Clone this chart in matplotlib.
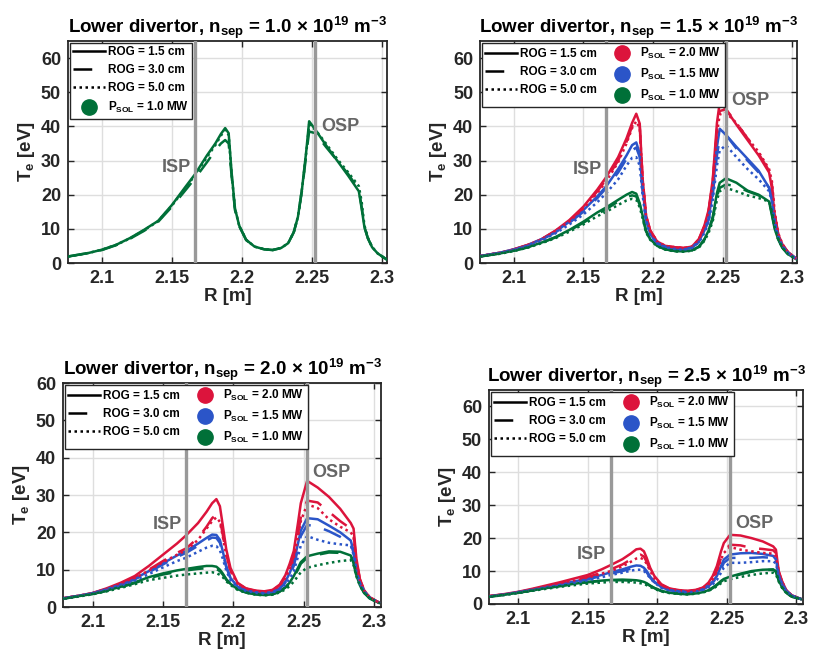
import matplotlib.pyplot as plt
from matplotlib.lines import Line2D

plt.rcParams['font.family'] = ['Liberation Sans', 'DejaVu Sans']
plt.rcParams['font.weight'] = 'bold'
plt.rcParams['mathtext.fontset'] = 'custom'
plt.rcParams['mathtext.rm'] = 'Liberation Sans:bold'
plt.rcParams['mathtext.bf'] = 'Liberation Sans:bold'
plt.rcParams['mathtext.it'] = 'Liberation Sans:bold'
plt.rcParams['mathtext.default'] = 'bf'

# major radius along the lower divertor target [m]
R = [2.0757, 2.09, 2.10, 2.11, 2.12, 2.13, 2.14, 2.15, 2.16, 2.1665,
     2.175, 2.181, 2.185, 2.188, 2.1905, 2.1925, 2.195, 2.198, 2.203, 2.209,
     2.216, 2.222, 2.228, 2.233, 2.237, 2.24, 2.243, 2.246, 2.248, 2.2525,
     2.26, 2.268, 2.276, 2.2835, 2.2855, 2.2875, 2.29, 2.293, 2.297, 2.3035]

rog_cm = [1.5, 3.0, 5.0]
psol_mw = [2.0, 1.5, 1.0]
nsep = [1.0, 1.5, 2.0, 2.5]
r_isp = 2.1665
r_osp = 2.2525

# Te [eV], one row per ROG (1.5, 3.0, 5.0 cm)
te_n10_p10 = [
    [1.9, 2.9, 3.9, 5.3, 7.3, 9.7, 12.3, 17.0, 22.5, 26.0, 31.5, 35.0, 37.8, 39.5, 38.0, 27.0, 16.0, 11.0, 6.8, 4.8,
     4.0, 3.8, 4.4, 5.8, 9.0, 13.5, 22.0, 33.0, 41.5, 39.0, 34.5, 30.0, 25.5, 21.0, 16.0, 10.5, 7.2, 4.6, 2.8, 1.0],
    [1.9, 2.9, 3.8, 5.2, 7.1, 9.4, 12.0, 16.5, 21.5, 24.8, 29.5, 33.0, 35.0, 36.0, 35.0, 26.0, 15.5, 10.8, 6.7, 4.8,
     4.0, 3.8, 4.4, 5.8, 9.0, 13.5, 21.5, 32.0, 38.5, 38.0, 34.0, 30.0, 26.0, 21.5, 16.5, 10.5, 7.2, 4.6, 2.8, 1.0],
    [1.9, 2.9, 3.9, 5.3, 7.2, 9.6, 12.2, 16.8, 22.2, 25.7, 31.0, 34.5, 37.3, 39.0, 37.5, 26.5, 16.0, 11.0, 6.8, 4.8,
     4.0, 3.8, 4.4, 5.8, 9.0, 13.5, 22.0, 32.5, 40.5, 39.0, 35.0, 30.5, 26.5, 22.5, 18.0, 11.0, 7.4, 4.7, 2.8, 1.0],
]

te_n15_p20 = [
    [2.0, 3.0, 4.0, 5.3, 7.0, 9.5, 12.6, 16.5, 21.5, 25.2, 31.0, 36.5, 41.0, 43.7, 40.8, 25.0, 14.0, 9.5, 6.3, 5.0,
     4.6, 4.4, 4.8, 7.0, 11.0, 15.5, 24.5, 41.0, 47.0, 45.0, 40.5, 36.0, 31.5, 26.5, 22.0, 14.0, 8.5, 5.5, 3.2, 1.1],
    [2.0, 3.0, 4.0, 5.3, 7.0, 9.4, 12.4, 16.2, 21.0, 24.5, 30.0, 35.5, 40.0, 42.2, 40.0, 25.0, 14.0, 9.5, 6.3, 5.0,
     4.6, 4.4, 4.8, 6.9, 10.8, 15.2, 24.0, 39.0, 44.5, 45.0, 41.0, 36.5, 32.0, 27.0, 23.0, 14.5, 8.6, 5.5, 3.2, 1.1],
    [2.0, 3.0, 3.9, 5.2, 6.9, 9.3, 12.2, 16.0, 20.5, 24.0, 29.5, 35.0, 39.5, 41.5, 39.5, 25.0, 14.0, 9.5, 6.3, 5.0,
     4.6, 4.4, 4.8, 6.8, 10.5, 15.0, 23.5, 38.0, 43.5, 44.0, 41.0, 36.5, 32.5, 27.5, 24.0, 15.0, 8.8, 5.6, 3.2, 1.1],
]
te_n15_p15 = [
    [2.0, 3.0, 4.0, 5.2, 7.0, 9.2, 12.1, 15.5, 19.5, 22.5, 27.5, 31.5, 34.5, 35.3, 32.0, 22.0, 13.0, 8.5, 5.8, 4.7,
     4.2, 4.0, 4.5, 6.3, 9.5, 13.0, 21.0, 34.0, 39.3, 37.5, 34.0, 30.5, 27.0, 22.0, 18.5, 12.0, 7.8, 5.0, 3.0, 1.1],
    [2.0, 3.0, 3.9, 5.1, 6.8, 9.0, 11.8, 15.0, 19.0, 22.0, 26.5, 30.5, 33.0, 33.8, 31.0, 21.5, 12.8, 8.4, 5.8, 4.7,
     4.2, 4.0, 4.5, 6.2, 9.2, 12.6, 20.0, 31.5, 36.5, 37.5, 33.5, 30.0, 26.5, 22.0, 18.5, 12.0, 7.8, 5.0, 3.0, 1.1],
    [2.0, 2.9, 3.8, 5.0, 6.6, 8.7, 11.3, 14.2, 17.8, 20.5, 24.5, 28.5, 30.8, 31.0, 28.5, 20.0, 12.3, 8.2, 5.7, 4.6,
     4.1, 3.9, 4.4, 6.0, 8.8, 12.0, 18.5, 28.5, 33.0, 34.5, 31.0, 27.5, 24.5, 21.0, 18.0, 12.0, 7.8, 5.0, 3.0, 1.1],
]
te_n15_p10 = [
    [1.9, 2.8, 3.6, 4.6, 6.0, 7.6, 9.7, 12.1, 14.8, 16.3, 18.5, 20.0, 20.8, 20.3, 17.5, 14.0, 9.5, 7.0, 5.0, 4.0,
     3.5, 3.4, 3.7, 4.8, 7.0, 9.5, 13.6, 20.5, 23.5, 24.8, 23.5, 21.2, 20.0, 18.0, 14.0, 10.0, 7.0, 4.5, 2.6, 1.0],
    [1.9, 2.8, 3.6, 4.6, 5.9, 7.5, 9.5, 11.8, 14.3, 15.8, 18.0, 19.3, 19.8, 19.5, 17.0, 13.6, 9.3, 6.9, 5.0, 4.0,
     3.5, 3.4, 3.7, 4.7, 6.8, 9.2, 13.0, 19.5, 22.0, 23.0, 22.5, 21.0, 19.8, 18.0, 14.5, 10.3, 7.0, 4.5, 2.6, 1.0],
    [1.9, 2.7, 3.5, 4.5, 5.8, 7.3, 9.2, 11.3, 13.7, 15.0, 17.0, 18.3, 18.8, 18.5, 16.3, 13.2, 9.0, 6.8, 4.9, 3.9,
     3.4, 3.3, 3.6, 4.5, 6.5, 8.8, 12.3, 18.5, 21.0, 22.0, 21.0, 19.8, 19.0, 18.0, 15.0, 10.5, 7.0, 4.5, 2.6, 1.0],
]

te_n20_p20 = [
    [2.1, 3.0, 3.75, 5.0, 6.5, 8.3, 11.0, 14.0, 17.0, 19.2, 22.5, 25.5, 27.8, 28.9, 27.0, 22.0, 15.5, 10.5, 6.5, 5.0,
     4.4, 4.2, 4.6, 6.0, 8.5, 11.5, 15.0, 22.5, 27.8, 33.8, 32.0, 29.5, 26.3, 22.5, 21.0, 13.0, 7.5, 4.5, 2.6, 1.2],
    [2.1, 3.0, 3.7, 4.8, 6.2, 7.8, 10.0, 12.3, 14.5, 15.7, 18.5, 21.5, 23.8, 24.8, 23.5, 19.5, 14.0, 9.8, 6.3, 4.9,
     4.3, 4.1, 4.5, 5.8, 8.0, 10.5, 13.5, 19.5, 24.0, 28.5, 28.0, 25.5, 23.0, 21.0, 19.5, 12.5, 7.3, 4.4, 2.6, 1.2],
    [2.1, 3.0, 3.7, 4.8, 6.1, 7.7, 9.8, 12.0, 14.0, 15.2, 18.0, 21.0, 23.0, 24.0, 22.8, 19.0, 13.8, 9.7, 6.3, 4.9,
     4.3, 4.1, 4.5, 5.7, 7.8, 10.0, 13.0, 19.0, 23.0, 27.5, 26.5, 23.5, 21.5, 20.0, 18.8, 12.0, 7.2, 4.4, 2.6, 1.2],
]
te_n20_p15 = [
    [2.1, 3.0, 3.7, 4.8, 6.0, 7.6, 9.6, 11.7, 13.8, 15.0, 17.0, 18.5, 19.4, 19.3, 18.0, 15.0, 11.0, 7.8, 5.5, 4.4,
     3.9, 3.7, 4.0, 5.0, 6.8, 9.0, 12.0, 17.0, 20.5, 23.8, 23.5, 21.8, 20.0, 17.8, 15.0, 10.0, 6.5, 4.2, 2.5, 1.2],
    [2.1, 3.0, 3.7, 4.7, 5.9, 7.4, 9.3, 11.4, 13.4, 14.5, 16.4, 17.8, 18.6, 18.5, 17.2, 14.5, 10.7, 7.7, 5.5, 4.4,
     3.9, 3.7, 4.0, 4.9, 6.5, 8.5, 11.0, 15.5, 19.0, 22.0, 21.5, 20.3, 18.8, 17.0, 14.5, 9.8, 6.4, 4.2, 2.5, 1.2],
    [2.0, 2.9, 3.6, 4.6, 5.7, 7.1, 8.8, 10.6, 12.3, 13.2, 14.8, 15.9, 16.4, 16.3, 15.2, 13.0, 9.8, 7.2, 5.3, 4.3,
     3.8, 3.6, 3.9, 4.7, 6.0, 7.5, 9.5, 13.5, 16.5, 19.0, 18.0, 17.2, 16.8, 16.5, 14.0, 9.5, 6.3, 4.1, 2.5, 1.2],
]
te_n20_p10 = [
    [2.0, 2.9, 3.5, 4.4, 5.4, 6.6, 8.0, 9.0, 9.8, 10.2, 10.7, 11.0, 11.0, 10.8, 10.0, 9.0, 7.5, 6.2, 4.8, 3.9,
     3.4, 3.2, 3.4, 4.2, 5.3, 6.5, 8.3, 10.5, 12.0, 13.6, 14.3, 14.9, 14.8, 13.8, 12.0, 8.5, 5.8, 3.8, 2.3, 1.1],
    [2.0, 2.9, 3.5, 4.3, 5.3, 6.4, 7.7, 8.7, 9.4, 9.8, 10.2, 10.4, 10.4, 10.2, 9.6, 8.7, 7.3, 6.1, 4.7, 3.9,
     3.4, 3.2, 3.4, 4.1, 5.2, 6.3, 8.0, 10.0, 11.6, 13.2, 14.0, 14.6, 14.5, 13.6, 11.8, 8.4, 5.8, 3.8, 2.3, 1.1],
    [2.0, 2.8, 3.4, 4.2, 5.1, 6.1, 7.2, 7.8, 8.4, 8.7, 9.0, 9.2, 9.3, 9.1, 8.6, 8.0, 6.9, 5.9, 4.6, 3.8,
     3.3, 3.1, 3.3, 3.9, 4.7, 5.6, 6.8, 8.3, 9.3, 10.5, 11.2, 11.8, 12.3, 12.6, 11.2, 8.2, 5.7, 3.8, 2.3, 1.1],
]

te_n25_p20 = [
    [2.2, 3.0, 3.7, 4.6, 5.6, 6.6, 7.7, 8.8, 10.5, 11.8, 13.6, 15.3, 16.6, 16.8, 16.0, 14.0, 11.0, 8.5, 6.0, 4.7,
     4.2, 4.0, 4.3, 5.0, 6.5, 8.5, 11.5, 16.0, 18.5, 21.0, 20.8, 20.0, 19.0, 17.5, 16.5, 10.0, 6.8, 4.2, 2.6, 1.5],
    [2.2, 2.9, 3.6, 4.4, 5.3, 6.2, 7.2, 8.2, 9.5, 10.5, 12.0, 13.5, 14.6, 15.0, 14.4, 12.8, 10.3, 8.0, 5.8, 4.6,
     4.1, 3.9, 4.2, 4.9, 6.2, 7.8, 10.2, 14.0, 16.0, 18.0, 17.8, 17.0, 16.7, 16.3, 15.5, 9.8, 6.7, 4.2, 2.6, 1.5],
    [2.2, 2.9, 3.6, 4.4, 5.3, 6.1, 7.0, 8.0, 9.2, 10.0, 11.4, 12.8, 13.8, 14.0, 13.5, 12.2, 10.0, 7.8, 5.7, 4.6,
     4.1, 3.9, 4.2, 4.8, 6.0, 7.5, 9.8, 13.5, 15.5, 17.3, 16.5, 16.0, 15.5, 15.3, 14.5, 9.5, 6.6, 4.1, 2.6, 1.5],
]
te_n25_p15 = [
    [2.1, 2.9, 3.6, 4.3, 5.1, 5.9, 6.8, 7.7, 8.8, 9.6, 10.5, 11.3, 11.7, 11.6, 11.0, 10.0, 8.3, 6.8, 5.1, 4.2,
     3.8, 3.6, 3.9, 4.5, 5.6, 6.8, 8.5, 11.5, 13.5, 15.0, 15.4, 15.5, 15.2, 14.6, 13.5, 9.0, 6.2, 4.0, 2.5, 1.5],
    [2.1, 2.9, 3.6, 4.3, 5.0, 5.8, 6.6, 7.5, 8.5, 9.2, 10.0, 10.7, 11.0, 11.0, 10.5, 9.6, 8.0, 6.6, 5.0, 4.2,
     3.8, 3.6, 3.9, 4.4, 5.4, 6.5, 8.0, 10.6, 12.5, 14.0, 14.0, 14.0, 14.2, 14.0, 13.0, 8.8, 6.1, 4.0, 2.5, 1.5],
    [2.1, 2.8, 3.5, 4.2, 4.9, 5.6, 6.4, 7.2, 8.1, 8.8, 9.5, 10.1, 10.4, 10.4, 10.0, 9.2, 7.8, 6.5, 4.9, 4.1,
     3.7, 3.5, 3.8, 4.3, 5.1, 6.0, 7.3, 9.5, 11.0, 12.5, 12.5, 12.7, 13.0, 13.0, 12.3, 8.5, 6.0, 3.9, 2.5, 1.5],
]
te_n25_p10 = [
    [2.0, 2.8, 3.4, 4.1, 4.8, 5.5, 6.1, 6.7, 7.1, 7.3, 7.4, 7.3, 7.2, 7.0, 6.7, 6.3, 5.6, 4.9, 4.0, 3.4,
     3.1, 3.0, 3.2, 3.6, 4.2, 5.0, 5.9, 7.0, 7.6, 8.3, 9.2, 10.0, 10.4, 10.5, 10.0, 7.2, 5.0, 3.4, 2.2, 1.5],
    [2.0, 2.8, 3.4, 4.1, 4.8, 5.4, 6.0, 6.6, 7.0, 7.2, 7.2, 7.1, 7.0, 6.8, 6.5, 6.1, 5.5, 4.8, 3.9, 3.4,
     3.1, 3.0, 3.2, 3.6, 4.1, 4.8, 5.7, 6.8, 7.4, 8.1, 9.0, 9.8, 10.2, 10.4, 9.8, 7.1, 5.0, 3.4, 2.2, 1.5],
    [2.0, 2.7, 3.3, 4.0, 4.6, 5.2, 5.7, 6.2, 6.5, 6.7, 6.7, 6.6, 6.5, 6.3, 6.1, 5.7, 5.2, 4.6, 3.8, 3.3,
     3.0, 2.9, 3.1, 3.5, 4.0, 4.6, 5.4, 6.3, 6.9, 7.5, 8.2, 8.8, 9.3, 9.5, 9.0, 6.8, 4.8, 3.3, 2.2, 1.5],
]

colors = {2.0: '#dc143c', 1.5: '#2b55c8', 1.0: '#007038'}
styles = ['-', (0, (7.5, 5.5)), (0, (1, 1.4))]
gray = '#999999'
txt = '#262626'

panels = [
    {'n': 1.0, 'runs': {1.0: te_n10_p10}, 'ylim': 65,
     'pos': [0.0834, 0.6009, 0.3914, 0.3369], 'xlim': (2.0757, 2.3036),
     'isp_y': 28, 'osp_y': 40},
    {'n': 1.5, 'runs': {2.0: te_n15_p20, 1.5: te_n15_p15, 1.0: te_n15_p10}, 'ylim': 65,
     'pos': [0.589, 0.6009, 0.389, 0.3369], 'xlim': (2.0757, 2.3036),
     'isp_y': 27.5, 'osp_y': 47.5},
    {'n': 2.0, 'runs': {2.0: te_n20_p20, 1.5: te_n20_p15, 1.0: te_n20_p10}, 'ylim': 60,
     'pos': [0.0773, 0.0789, 0.3902, 0.3399], 'xlim': (2.079, 2.305),
     'isp_y': 22, 'osp_y': 36},
    {'n': 2.5, 'runs': {2.0: te_n25_p20, 1.5: te_n25_p15, 1.0: te_n25_p10}, 'ylim': 65,
     'pos': [0.6, 0.0835, 0.3853, 0.3247], 'xlim': (2.079, 2.305),
     'isp_y': 15, 'osp_y': 24.5},
]

fig = plt.figure(figsize=(8.15, 6.59), dpi=100)

for p in panels:
    ax = fig.add_axes(p['pos'])
    for k, ls in enumerate(styles):
        for ps, te in p['runs'].items():
            ax.plot(R, te[k], color=colors[ps], ls=ls, lw=1.8, zorder=3)

    for xv in (r_isp, r_osp):
        ax.axvline(xv, color=gray, lw=2.4, zorder=4)
    ax.annotate('ISP', (r_isp, p['isp_y']), xytext=(-3, 0), textcoords='offset points',
                ha='right', va='center', color='#666666', fontsize=13, fontweight='bold', zorder=5)
    ax.annotate('OSP', (r_osp, p['osp_y']), xytext=(4, 0), textcoords='offset points',
                ha='left', va='center', color='#666666', fontsize=13, fontweight='bold', zorder=5)

    ax.set_xlim(*p['xlim'])
    ax.set_ylim(0, p['ylim'])
    ax.set_xticks([2.1, 2.15, 2.2, 2.25, 2.3])
    ax.set_xticklabels(['2.1', '2.15', '2.2', '2.25', '2.3'])
    ax.set_yticks(range(0, 61, 10))
    ax.grid(True, color='#dedede', lw=1.0, zorder=0)
    ax.set_axisbelow(True)
    ax.tick_params(direction='in', length=4, width=1, top=True, right=True,
                   labelsize=13, colors=txt, pad=5)
    for s in ax.spines.values():
        s.set_color(txt)
        s.set_linewidth(1.3)
    ax.set_xlabel('R [m]', fontsize=13.5, fontweight='bold', color=txt, labelpad=1)
    ax.set_ylabel('T$_e$ [eV]', fontsize=13.5, fontweight='bold', color=txt, labelpad=3)
    ax.set_title(f'Lower divertor, n$_{{sep}}$ = {p["n"]:.1f} × 10$^{{19}}$ m$^{{-3}}$',
                 fontsize=13.5, fontweight='bold', color='black', pad=6)

    line_h = [Line2D([], [], color='black', ls=ls, lw=1.8) for ls in styles]
    line_l = [f'ROG = {r:.1f} cm' for r in rog_cm]
    dot_h = [Line2D([], [], ls='none', marker='o', ms=11, color=colors[ps]) for ps in p['runs']]
    dot_l = [f'P$_{{SOL}}$ = {ps:.1f} MW' for ps in p['runs']]
    ncol = 1 if len(p['runs']) == 1 else 2
    leg = ax.legend(line_h + dot_h, line_l + dot_l, ncol=ncol, loc='upper left',
                    borderaxespad=0.15, fontsize=8.5, handlelength=2.7, handletextpad=0.2,
                    labelspacing=0.5, columnspacing=0.8, borderpad=0.3,
                    fancybox=False, framealpha=1, edgecolor=txt)
    leg.get_frame().set_linewidth(1.0)
    leg.set_zorder(10)

fig.savefig('out.png', dpi=100)
